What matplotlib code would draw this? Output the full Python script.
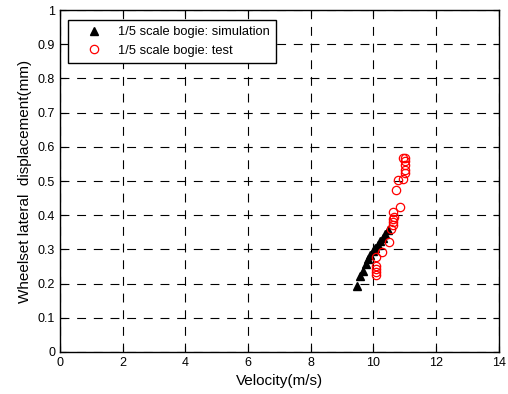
import matplotlib
matplotlib.use("Agg")
import matplotlib.pyplot as plt

plt.rcParams["font.family"] = ["Liberation Sans", "DejaVu Sans"]

# 1/5 scale bogie: simulation
sim_v = [9.49, 9.58, 9.67, 9.76, 9.83, 9.90, 9.97, 10.05, 10.13, 10.21, 10.29, 10.38, 10.45]
sim_d = [0.192, 0.221, 0.237, 0.256, 0.273, 0.283, 0.294, 0.305, 0.314, 0.324, 0.333, 0.344, 0.358]

# 1/5 scale bogie: test
test_v = [10.08, 10.08, 10.08, 10.08, 10.08, 10.27, 10.48, 10.57, 10.62, 10.63, 10.63,
          10.64, 10.62, 10.85, 10.72, 10.79, 10.95, 11.0, 11.0, 11.0, 11.0, 10.95, 11.0]
test_d = [0.278, 0.251, 0.244, 0.234, 0.226, 0.291, 0.322, 0.361, 0.370, 0.380, 0.388,
          0.395, 0.409, 0.424, 0.473, 0.504, 0.507, 0.522, 0.533, 0.546, 0.558, 0.568, 0.568]

fig = plt.figure(figsize=(5.08, 3.94), dpi=100)
ax = fig.add_axes([0.118, 0.1066, 0.864, 0.868])

ax.plot(sim_v, sim_d, "k^", markersize=6, label="1/5 scale bogie: simulation")
ax.plot(test_v, test_d, "o", mfc="none", mec="red", markersize=6, mew=0.9,
        label="1/5 scale bogie: test")

ax.set_xlim(0, 14)
ax.set_ylim(0, 1)
ax.set_xticks(range(0, 15, 2))
ax.set_yticks([i / 10 for i in range(11)])
ax.set_yticklabels(["0"] + [f"{i / 10:g}" for i in range(1, 11)])
ax.grid(True, color="black", linestyle=(0, (8, 7)), linewidth=0.8)
ax.tick_params(direction="in", top=True, right=True, labelsize=9, length=4)
for s in ax.spines.values():
    s.set_linewidth(1.0)

ax.set_xlabel("Velocity(m/s)", fontsize=11)
ax.set_ylabel("Wheelset lateral  displacement(mm)", fontsize=11)

leg = ax.legend(loc="upper left", fontsize=9.3, fancybox=False, framealpha=1,
                edgecolor="black", borderpad=0.5, handlelength=3.0,
                handletextpad=0.4, bbox_to_anchor=(0.003, 0.99))
leg.get_frame().set_linewidth(1.0)

fig.savefig("out.png", dpi=100)
